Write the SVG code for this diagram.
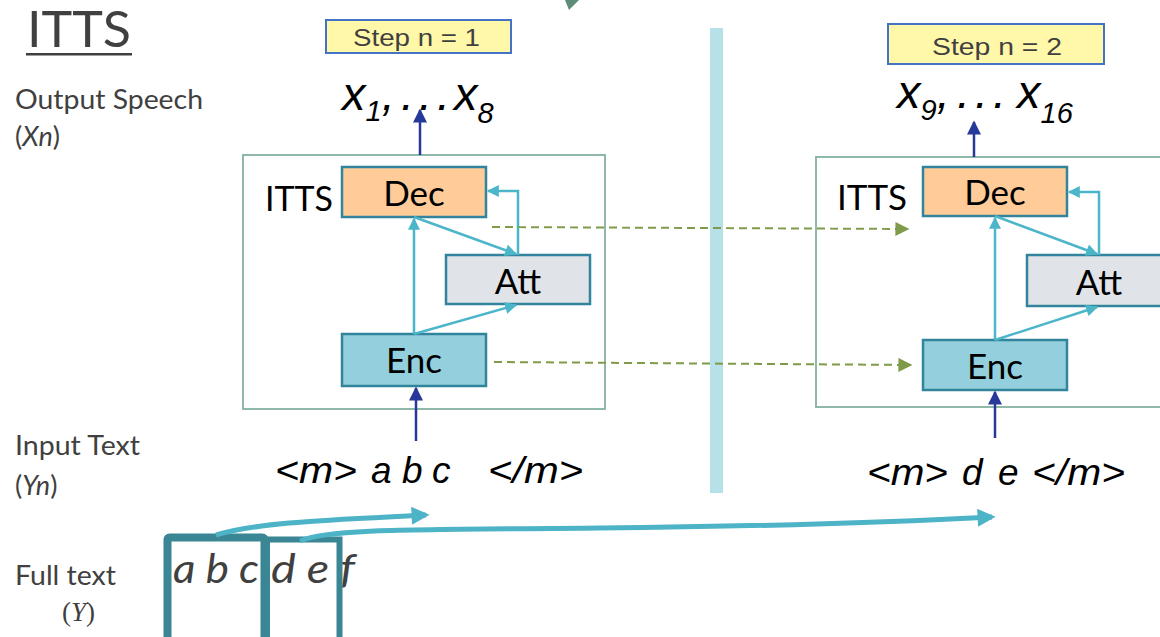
<svg xmlns="http://www.w3.org/2000/svg" width="1160" height="637" viewBox="0 0 1160 637">
  <style>
    .lbl { font-family: Lato, "Open Sans", sans-serif; fill: #404040; }
    .blk { font-family: Lato, "Open Sans", sans-serif; fill: #000; font-size: 35px; }
    .ari { font-family: "Liberation Sans", Arial, sans-serif; fill: #000; font-style: italic; }
    .step { fill: #FFF8A8; stroke: #4472C4; stroke-width: 2; }
    .steptxt { font-family: "Liberation Sans", Arial, sans-serif; fill: #404040; font-size: 24px; }
    .frame { fill: #fff; stroke: #8FB8A8; stroke-width: 2; }
    .dec { fill: #FFCC99; stroke: #31849B; stroke-width: 2.5; }
    .att { fill: #E0E3E8; stroke: #31849B; stroke-width: 2.5; }
    .enc { fill: #93CFDC; stroke: #31849B; stroke-width: 2.5; }
    .inner { fill: none; stroke: #4BB5C9; stroke-width: 2.5; }
    .io { fill: none; stroke: #26399A; stroke-width: 2.5; }
    .skip { fill: none; stroke: #7F9A48; stroke-width: 2; stroke-dasharray: 8 5; }
    .seg { fill: none; stroke: #3A8694; }
    .feed { fill: none; stroke: #4DB3C6; stroke-width: 5; }
  </style>
  <defs>
    <marker id="ahInner" viewBox="0 0 10 10" refX="9" refY="5" markerWidth="13" markerHeight="12" markerUnits="userSpaceOnUse" orient="auto">
      <path d="M0,0 L10,5 L0,10 z" fill="#4BB5C9"/>
    </marker>
    <marker id="ahIo" viewBox="0 0 10 10" refX="9" refY="5" markerWidth="16" markerHeight="14" markerUnits="userSpaceOnUse" orient="auto">
      <path d="M0,0 L10,5 L0,10 z" fill="#26399A"/>
    </marker>
    <marker id="ahSkip" viewBox="0 0 10 10" refX="9" refY="5" markerWidth="15" markerHeight="14" markerUnits="userSpaceOnUse" orient="auto">
      <path d="M0,0 L10,5 L0,10 z" fill="#7F9A48"/>
    </marker>
    <marker id="ahFeed" viewBox="0 0 10 10" refX="8" refY="5" markerWidth="20" markerHeight="18" markerUnits="userSpaceOnUse" orient="auto">
      <path d="M0,0 L10,5 L0,10 z" fill="#4DB3C6"/>
    </marker>
  </defs>

  <rect width="1160" height="637" fill="#fff"/>

  <!-- partial shape at the top edge -->
  <polygon points="565,0 579,0 569,10" fill="#5E8C78"/>

  <!-- title and row labels -->
  <g id="title">
    <text class="lbl" x="27" y="47" font-size="50" textLength="104" lengthAdjust="spacingAndGlyphs">ITTS</text>
    <rect x="26" y="53" width="106" height="2.5" fill="#404040"/>
  </g>
  <g id="row-labels">
    <text class="lbl" x="15" y="109" font-size="26" textLength="188" lengthAdjust="spacingAndGlyphs">Output Speech</text>
    <text class="lbl" x="15" y="146" font-size="27">(<tspan font-style="italic">Xn</tspan>)</text>
    <text class="lbl" x="15" y="455" font-size="26" textLength="125" lengthAdjust="spacingAndGlyphs">Input Text</text>
    <text class="lbl" x="15" y="495" font-size="27">(<tspan font-style="italic">Yn</tspan>)</text>
    <text class="lbl" x="15" y="585" font-size="26" textLength="101" lengthAdjust="spacingAndGlyphs">Full text</text>
    <text x="62" y="621" font-size="27" fill="#404040" font-family="'Liberation Serif', serif">(<tspan font-style="italic">Y</tspan>)</text>
  </g>

  <!-- step divider -->
  <rect id="divider" x="710" y="28" width="13" height="465" fill="#B7E1E8"/>

  <!-- step 1 -->
  <g id="step1-label">
    <rect class="step" x="326" y="20" width="185" height="33"/>
    <text class="steptxt" x="353" y="46" textLength="127" lengthAdjust="spacingAndGlyphs">Step n = 1</text>
  </g>
  <g id="step1-output">
    <text class="ari" y="110" font-size="47"><tspan x="342">x</tspan><tspan font-size="29" dy="11">1</tspan><tspan dy="-11">,</tspan></text>
    <text class="ari" y="110" font-size="47"><tspan x="401">.</tspan><tspan x="419">.</tspan><tspan x="437">.</tspan></text>
    <text class="ari" y="110" font-size="47"><tspan x="454">x</tspan><tspan font-size="29" dy="13">8</tspan></text>
  </g>
  <g id="step1-itts">
    <rect class="frame" x="243" y="155" width="362" height="254"/>
    <text class="blk" x="265" y="211" textLength="68" lengthAdjust="spacingAndGlyphs">ITTS</text>
  </g>
  <g id="step1-dec">
    <rect class="dec" x="342" y="167" width="144" height="50"/>
    <text class="blk" x="414" y="206" text-anchor="middle">Dec</text>
  </g>
  <g id="step1-att">
    <rect class="att" x="446" y="255" width="144" height="49"/>
    <text class="blk" x="518" y="294" text-anchor="middle">Att</text>
  </g>
  <g id="step1-enc">
    <rect class="enc" x="342" y="334" width="144" height="52"/>
    <text class="blk" x="414" y="373" text-anchor="middle">Enc</text>
  </g>
  <g id="step1-input">
    <text class="ari" y="483" font-size="37"><tspan x="275" textLength="82" lengthAdjust="spacingAndGlyphs">&lt;m&gt;</tspan><tspan x="371">a</tspan><tspan x="402">b</tspan><tspan x="432">c</tspan><tspan x="488" textLength="95" lengthAdjust="spacingAndGlyphs">&lt;/m&gt;</tspan></text>
  </g>

  <!-- step 2 -->
  <g id="step2-label">
    <rect class="step" x="888" y="24" width="216" height="40"/>
    <text class="steptxt" x="932" y="55" textLength="130" lengthAdjust="spacingAndGlyphs">Step n = 2</text>
  </g>
  <g id="step2-output">
    <text class="ari" y="108" font-size="47"><tspan x="897">x</tspan><tspan font-size="29" dy="12">9</tspan><tspan dy="-12">,</tspan></text>
    <text class="ari" y="108" font-size="47"><tspan x="957">.</tspan><tspan x="975">.</tspan><tspan x="993">.</tspan></text>
    <text class="ari" y="108" font-size="47"><tspan x="1017">x</tspan><tspan font-size="29" dy="15">16</tspan></text>
  </g>
  <g id="step2-itts">
    <rect class="frame" x="816" y="157" width="360" height="250"/>
    <text class="blk" x="837" y="210" textLength="70" lengthAdjust="spacingAndGlyphs">ITTS</text>
  </g>
  <g id="step2-dec">
    <rect class="dec" x="923" y="167" width="144" height="49"/>
    <text class="blk" x="995" y="205" text-anchor="middle">Dec</text>
  </g>
  <g id="step2-att">
    <rect class="att" x="1027" y="255" width="144" height="51"/>
    <text class="blk" x="1099" y="295" text-anchor="middle">Att</text>
  </g>
  <g id="step2-enc">
    <rect class="enc" x="923" y="340" width="144" height="50"/>
    <text class="blk" x="995" y="379" text-anchor="middle">Enc</text>
  </g>
  <g id="step2-input">
    <text class="ari" y="485" font-size="37"><tspan x="867" textLength="81" lengthAdjust="spacingAndGlyphs">&lt;m&gt;</tspan><tspan x="962">d</tspan><tspan x="998">e</tspan><tspan x="1032" textLength="93" lengthAdjust="spacingAndGlyphs">&lt;/m&gt;</tspan></text>
  </g>

  <!-- full text with segment boxes -->
  <g id="full-text">
    <text class="lbl" x="173" y="583" font-size="40" font-style="italic" textLength="86" lengthAdjust="spacingAndGlyphs" xml:space="preserve">a b c</text>
    <text class="lbl" x="271" y="583" font-size="40" font-style="italic" textLength="84" lengthAdjust="spacingAndGlyphs" xml:space="preserve">d e f</text>
    <rect class="seg" x="167.5" y="537.5" width="97" height="110" stroke-width="8" rx="2"/>
    <rect class="seg" x="267" y="539.5" width="72.5" height="110" stroke-width="6"/>
  </g>

  <!-- connectors -->
  <g id="connectors">
    <!-- step 1 internal -->
    <line class="inner" x1="414" y1="334" x2="414" y2="219" marker-end="url(#ahInner)"/>
    <line class="inner" x1="414" y1="334" x2="516" y2="305" marker-end="url(#ahInner)"/>
    <line class="inner" x1="414" y1="217" x2="516" y2="254" marker-end="url(#ahInner)"/>
    <polyline class="inner" points="518,255 518,191 488,191" marker-end="url(#ahInner)"/>
    <!-- step 2 internal -->
    <line class="inner" x1="995" y1="340" x2="995" y2="218" marker-end="url(#ahInner)"/>
    <line class="inner" x1="995" y1="340" x2="1097" y2="307" marker-end="url(#ahInner)"/>
    <line class="inner" x1="995" y1="216" x2="1097" y2="254" marker-end="url(#ahInner)"/>
    <polyline class="inner" points="1099,255 1099,192 1069,192" marker-end="url(#ahInner)"/>
    <!-- input / output -->
    <line class="io" x1="420" y1="155" x2="420" y2="110" marker-end="url(#ahIo)"/>
    <line class="io" x1="416" y1="441" x2="416" y2="388" marker-end="url(#ahIo)"/>
    <line class="io" x1="974" y1="157" x2="974" y2="122" marker-end="url(#ahIo)"/>
    <line class="io" x1="995" y1="438" x2="995" y2="392" marker-end="url(#ahIo)"/>
    <!-- state carried between steps -->
    <line class="skip" x1="492" y1="227" x2="908" y2="229" marker-end="url(#ahSkip)"/>
    <line class="skip" x1="494" y1="362" x2="911" y2="365" marker-end="url(#ahSkip)"/>
    <!-- text segments fed to each step -->
    <path class="feed" d="M216,535 C260,522 330,520 426,515" marker-end="url(#ahFeed)"/>
    <path class="feed" d="M300,541 C330,528 420,530 600,528 C800,526 900,522 992,517" marker-end="url(#ahFeed)"/>
  </g>
</svg>
